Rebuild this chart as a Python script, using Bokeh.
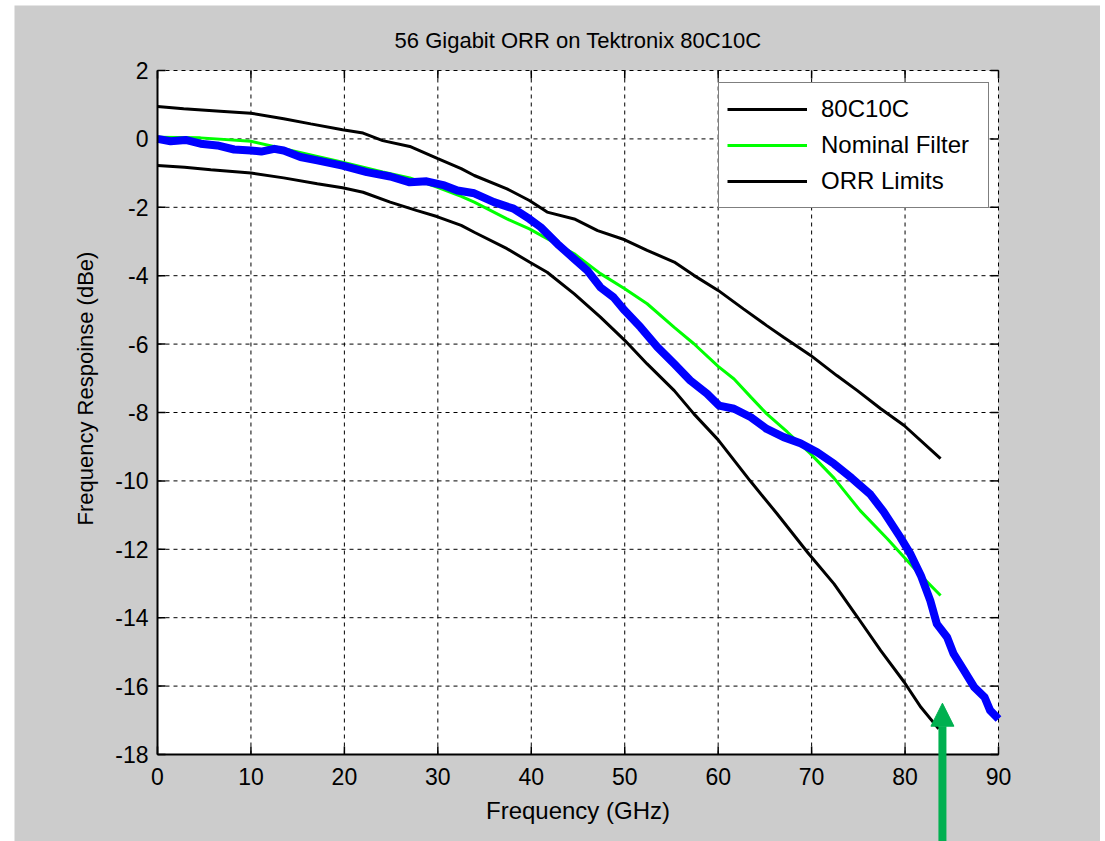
from bokeh.plotting import figure
from bokeh.models import (Range1d, Legend, LegendItem, Arrow, NormalHead,
                          BoxAnnotation)
from bokeh.core.properties import value
from bokeh.embed import file_html
from bokeh.resources import INLINE
import math

# ---- data ----
upper_freq = [0, 2.8, 6.7, 10, 13.5, 16.4, 19.8, 22, 24.1, 27, 30, 32.5, 33.9,
              37.4, 39.8, 41.7, 44.6, 47.1, 50, 52.4, 55.3, 57.4, 60, 62.7,
              65.2, 67, 69.9, 72.7, 74.9, 77.4, 79.9, 83.8]
upper_db = [0.95, 0.88, 0.81, 0.75, 0.59, 0.44, 0.27, 0.17, -0.05, -0.22, -0.58,
            -0.87, -1.07, -1.46, -1.80, -2.14, -2.34, -2.68, -2.95, -3.26,
            -3.60, -3.99, -4.43, -4.97, -5.46, -5.80, -6.33, -6.92, -7.36,
            -7.89, -8.38, -9.35]

lower_freq = [0, 2.9, 5.7, 10, 13.5, 17.1, 19.8, 22, 24.9, 27.7, 29.9, 32.5,
              33.9, 37.4, 39.8, 41.7, 44.6, 47.4, 50, 52.4, 55.3, 57.4, 60,
              63.4, 66.3, 69.6, 72.4, 74.9, 77.4, 79.9, 81.7, 83.6]
lower_db = [-0.78, -0.83, -0.90, -1.00, -1.14, -1.31, -1.43, -1.56, -1.85,
            -2.09, -2.27, -2.53, -2.73, -3.21, -3.60, -3.90, -4.53, -5.21,
            -5.89, -6.58, -7.36, -8.04, -8.80, -9.99, -10.96, -12.10, -13.01,
            -13.98, -14.96, -15.88, -16.62, -17.25]

nominal_freq = [0, 4.6, 10, 13.5, 17.1, 19.8, 24.1, 27, 29.9, 32.5, 33.9, 37.4,
                39.8, 41.7, 44.6, 47.4, 50, 52.4, 55.3, 57.4, 60, 61.7, 63.5,
                65.2, 67.4, 69.9, 72.4, 75.2, 78.1, 79.9, 81.7, 83.8]
nominal_db = [0.05, 0.03, -0.07, -0.29, -0.51, -0.68, -0.97, -1.14, -1.41,
              -1.68, -1.85, -2.34, -2.63, -2.92, -3.36, -3.94, -4.38, -4.82,
              -5.51, -5.99, -6.65, -7.02, -7.55, -8.04, -8.57, -9.21, -9.92,
              -10.87, -11.69, -12.23, -12.77, -13.35]

meas_freq = [0, 1.4, 3.0, 4.6, 6.4, 8.2, 10, 11.1, 12.5, 13.5, 15.3, 17.1,
             19.8, 22.4, 24.9, 27, 28.8, 30.7, 32.1, 33.9, 36, 38.1, 39.8, 41,
             42.8, 44.6, 46, 47.4, 48.8, 50, 51.7, 53.5, 55.3, 57, 58.8, 60.1,
             61.7, 63.5, 65.2, 67, 68.8, 70.6, 72.4, 74.3, 76.3, 77.7, 79.5,
             80.6, 81.7, 82.7, 83.4, 84.5, 85.2, 86.3, 87.4, 88.5, 89.1, 90]
meas_db = [0.0, -0.07, -0.03, -0.14, -0.19, -0.31, -0.34, -0.37, -0.29, -0.34,
           -0.53, -0.63, -0.78, -0.97, -1.10, -1.27, -1.24, -1.36, -1.51,
           -1.59, -1.85, -2.04, -2.34, -2.58, -3.07, -3.51, -3.85, -4.34,
           -4.63, -5.02, -5.51, -6.09, -6.58, -7.06, -7.45, -7.80, -7.89,
           -8.14, -8.48, -8.72, -8.90, -9.16, -9.50, -9.92, -10.40, -10.90,
           -11.65, -12.15, -12.77, -13.50, -14.18, -14.57, -15.06, -15.54,
           -16.03, -16.32, -16.71, -16.96]

x_ticks = [0, 10, 20, 30, 40, 50, 60, 70, 80, 90]
y_ticks = [2, 0, -2, -4, -6, -8, -10, -12, -14, -16, -18]
x_tick_labels = [str(t) for t in x_ticks]
y_tick_labels = [str(t) for t in y_ticks]

TITLE = "56 Gigabit ORR on Tektronix 80C10C"
X_LABEL = "Frequency (GHz)"
Y_LABEL = "Frequency Respoinse (dBe)"

# axes limits
X_MIN, X_MAX = 0, 90
Y_MIN, Y_MAX = -18, 2

# annotation arrow (points at 84 GHz, where the limit lines end)
arrow_freq = 84
arrow_to_db = -16.5

# ---- layout geometry (page pixels) ----
FIG_LEFT, FIG_TOP, FIG_RIGHT, FIG_BOTTOM = 14, 5, 1100, 841
AX_LEFT, AX_TOP, AX_RIGHT, AX_BOTTOM = 157, 70, 998, 754
PX_X = (AX_RIGHT - AX_LEFT) / (X_MAX - X_MIN)
PX_Y = (AX_BOTTOM - AX_TOP) / (Y_MAX - Y_MIN)
view_x = (X_MIN - (AX_LEFT - FIG_LEFT) / PX_X,
          X_MIN + (FIG_RIGHT - AX_LEFT) / PX_X)
view_y = (Y_MAX - (FIG_BOTTOM - AX_TOP) / PX_Y,
          Y_MAX + (AX_TOP - FIG_TOP) / PX_Y)
W = FIG_RIGHT - FIG_LEFT
H = FIG_BOTTOM - FIG_TOP

FONT = "Liberation Sans"
GREEN_ARROW = "#00b050"
GRAY = "#cccccc"

p = figure(width=W, height=H, output_backend="svg", toolbar_location=None,
           x_range=Range1d(*view_x), y_range=Range1d(*view_y),
           x_axis_location=None, y_axis_location=None, title=None,
           min_border=0, background_fill_color=GRAY, border_fill_color=GRAY,
           outline_line_color=None, margin=(FIG_TOP, 5, 0, FIG_LEFT))
p.grid.visible = False

# white axes area
p.add_layout(BoxAnnotation(left=X_MIN, right=X_MAX, bottom=Y_MIN, top=Y_MAX,
                           fill_color="white", fill_alpha=1, line_color=None,
                           level="underlay"))

# dashed grid (including the top and right box edges)
p.segment(x0=x_ticks, y0=[Y_MIN] * len(x_ticks), x1=x_ticks,
          y1=[Y_MAX] * len(x_ticks), line_color="black", line_width=1,
          line_dash="4 4")
p.segment(x0=[X_MIN] * len(y_ticks), y0=y_ticks, x1=[X_MAX] * len(y_ticks),
          y1=y_ticks, line_color="black", line_width=1, line_dash="4 4")

# inward tick marks on all four sides
p.ray(x=x_ticks, y=[Y_MIN] * len(x_ticks), length=8, length_units="screen",
      angle=math.pi / 2, line_color="black", line_width=1.5)
p.ray(x=x_ticks, y=[Y_MAX] * len(x_ticks), length=8, length_units="screen",
      angle=-math.pi / 2, line_color="black", line_width=1.5)
p.ray(x=[X_MIN] * len(y_ticks), y=y_ticks, length=8, length_units="screen",
      angle=0, line_color="black", line_width=1.5)
p.ray(x=[X_MAX] * len(y_ticks), y=y_ticks, length=8, length_units="screen",
      angle=math.pi, line_color="black", line_width=1.5)

# data
r_upper = p.line(upper_freq, upper_db, line_color="black", line_width=3)
r_lower = p.line(lower_freq, lower_db, line_color="black", line_width=3)
r_nom = p.line(nominal_freq, nominal_db, line_color="#00ff00", line_width=3)
r_meas = p.line(meas_freq, meas_db, line_color="#0000ff", line_width=8,
                line_join="round")

# solid axis lines (left and bottom)
p.segment(x0=[X_MIN, X_MIN], y0=[Y_MIN, Y_MIN], x1=[X_MIN, X_MAX],
          y1=[Y_MAX, Y_MIN], line_color="black", line_width=2)

# tick labels, axis labels and title
p.text(x=x_ticks, y=[Y_MIN] * len(x_ticks), text=x_tick_labels,
       text_align="center", text_baseline="middle", y_offset=22,
       text_font=value(FONT), text_font_size="23px", text_color="black")
p.text(x=[X_MIN] * len(y_ticks), y=y_ticks, text=y_tick_labels,
       text_align="right", text_baseline="middle", x_offset=-9,
       text_font=value(FONT), text_font_size="23px", text_color="black")
p.text(x=[(X_MIN + X_MAX) / 2], y=[Y_MIN], text=[X_LABEL],
       text_align="center", text_baseline="middle", y_offset=56,
       text_font=value(FONT), text_font_size="24px", text_color="black")
p.text(x=[X_MIN], y=[-7.3], text=[Y_LABEL], angle=math.pi / 2,
       text_align="center", text_baseline="middle", x_offset=-72,
       text_font=value(FONT), text_font_size="22px", text_color="black")
p.text(x=[(X_MIN + X_MAX) / 2], y=[Y_MAX], text=[TITLE],
       text_align="center", text_baseline="middle", y_offset=-30,
       text_font=value(FONT), text_font_size="22px", text_color="black")

# legend: box from page (718, 84), 124 px tall
LEG_H = 2 * 8 + 3 * 36
legend = Legend(items=[LegendItem(label="80C10C", renderers=[r_upper]),
                       LegendItem(label="Nominal Filter", renderers=[r_nom]),
                       LegendItem(label="ORR Limits", renderers=[r_lower])],
                location=(718 - FIG_LEFT, H - (84 - FIG_TOP) - LEG_H),
                margin=0, padding=8, spacing=0,
                label_text_font=FONT, label_text_font_size="24px",
                label_text_color="black", label_height=36, glyph_height=36,
                glyph_width=80, label_standoff=14, label_width=159,
                border_line_color="black", border_line_width=1.5,
                background_fill_color="white", background_fill_alpha=1)
p.add_layout(legend)

arrow = Arrow(x_start=arrow_freq, y_start=view_y[0], x_end=arrow_freq,
              y_end=arrow_to_db, line_color=GREEN_ARROW, line_width=8,
              end=NormalHead(size=23, fill_color=GREEN_ARROW,
                             line_color=GREEN_ARROW))
p.add_layout(arrow)

open("out.html", "w").write(file_html(p, INLINE))
